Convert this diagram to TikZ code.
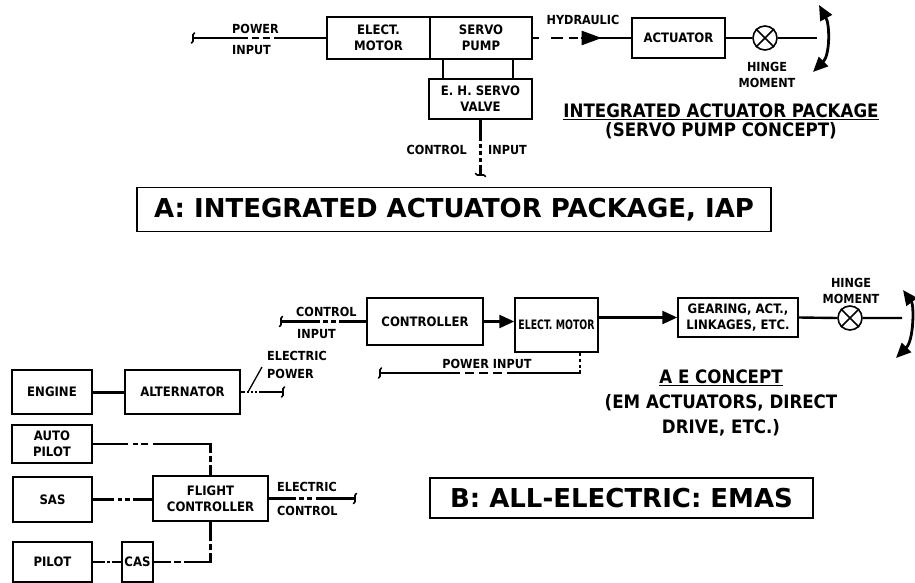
\documentclass[tikz,border=0pt]{standalone}
\usepackage{fontspec}
\setmainfont{Liberation Sans}
\newfontfamily\titlefont{DejaVu Sans}
\newfontfamily\lblfont{DejaVu Sans}[FakeStretch=0.9]
\newfontfamily\narrowfont{DejaVu Sans}[FakeStretch=0.72]
\usetikzlibrary{arrows.meta,calc,positioning,decorations.markings}
\newcommand{\squig}[2]{\begin{scope}[shift={#1},rotate=#2]
  \draw[line width=1.6pt,line cap=round] (1.5,-5) to[out=180,in=90] (0,0) to[out=-90,in=0] (-1.5,5);\end{scope}}
\tikzset{
  blk/.style={draw,line width=1.5pt,inner sep=0pt,align=center,
    font=\lblfont\bfseries\fontsize{13}{16}\selectfont},
  lbl/.style={inner sep=0pt,align=center,font=\lblfont\bfseries\fontsize{12.5}{16}\selectfont},
  link/.style={line width=2.4pt},
  hinge/.style={draw,circle,line width=1.6pt,minimum size=24pt,inner sep=0pt},
  flap/.style={line width=2.8pt,{Triangle[length=15pt,width=13pt]}-{Triangle[length=15pt,width=13pt]}},
  ttl/.style={draw,line width=1.6pt,inner sep=0pt,
    font=\titlefont\bfseries\fontsize{26}{30}\selectfont},
  head/.style={align=center,inner sep=0pt,font=\lblfont\bfseries\fontsize{18.5}{19}\selectfont},
  tip/.style={-{Triangle[length=15pt,width=13pt]}},
}
\begin{document}
\begin{tikzpicture}[x=1pt,y=-1pt]
\useasboundingbox (0,0) rectangle (915,583);
% A: integrated actuator package
\node[blk,minimum width=103pt,minimum height=42pt] (motA) at (378.5,38) {ELECT.\\MOTOR};
\node[blk,minimum width=102pt,minimum height=42pt] (pump) at (481,38) {SERVO\\PUMP};
\node[blk,minimum width=103pt,minimum height=40pt] (valve) at (480.5,99) {E. H. SERVO\\VALVE};
\node[blk,minimum width=93pt,minimum height=40pt] (act) at (678.5,38) {ACTUATOR};
\node[hinge] (hmA) at (765,38) {};
\draw[line width=1.6pt] (hmA.45) -- (hmA.225) (hmA.135) -- (hmA.-45);
\coordinate (pinA) at (193,38);
\coordinate (cinA) at (480.5,175);
\coordinate (fA) at (817,38);
\draw[link,dash pattern=on 52pt off 4pt on 7pt off 4pt on 7pt off 4pt on 100pt] (motA.west) -- (pinA);
\squig{(pinA)}{0}
\node[lbl,anchor=west] at (232,29) {POWER};
\node[lbl,anchor=west] at (232,50) {INPUT};
\foreach \p in {0.13,0.81}
  \draw[link] ($(pump.south west)!\p!(pump.south east)$) coordinate (v) -- (v |- valve.north);
\draw[link,dash pattern=on 21pt off 3pt on 4pt off 3pt on 4pt off 3pt on 4pt off 3pt on 50pt] (valve.south) -- (cinA);
\squig{(cinA)}{90}
\node[lbl,anchor=east] at (467,150) {CONTROL};
\node[lbl,anchor=west] at (488,150) {INPUT};
\draw[link,dash pattern=on 6pt off 12pt on 12pt off 6pt on 9pt off 3pt on 100pt,
  postaction={decorate,decoration={markings,mark=at position 0.7 with {\arrow{Triangle[length=20pt,width=14pt]}}}}]
  (pump.east) -- (act.west);
\node[lbl] at (583,20) {HYDRAULIC};
\draw[link] (act.east) -- (hmA.west) (hmA.east) -- (fA);
\draw[flap] (813,72) .. controls (830,55) and (830,25) .. (819,5);
\node[lbl] at (767,75) {HINGE\\MOMENT};
\node[head] at (721,121) {\underline{INTEGRATED ACTUATOR PACKAGE}\\(SERVO PUMP CONCEPT)};
\node[ttl,minimum width=634pt,minimum height=44pt] (ttlA) at (454,209.5) {A: INTEGRATED ACTUATOR PACKAGE, IAP};
% B: all-electric
\node[blk,minimum width=116pt,minimum height=47pt] (ctrl) at (425,321.5) {CONTROLLER};
\node[blk,minimum width=83pt,minimum height=54pt,font=\narrowfont\bfseries\fontsize{13}{16}\selectfont] (motB) at (556.5,325) {ELECT. MOTOR};
\node[blk,minimum width=120pt,minimum height=39pt] (gear) at (738,317.5) {GEARING, ACT.,\\LINKAGES, ETC.};
\node[hinge] (hmB) at (850,318) {};
\draw[line width=1.6pt] (hmB.45) -- (hmB.225) (hmB.135) -- (hmB.-45);
\coordinate (fB) at (902,318);
\coordinate (cinB) at (281,321.5);
\coordinate (pinB) at (380,373);
\draw[link,tip] (ctrl.east) -- (ctrl.east -| motB.west);
\draw[link,tip] (motB.east |- gear.west) -- (gear.west);
\draw[link] (gear.east) -- (hmB.west) (hmB.east) -- (fB);
\draw[flap] (896,358) .. controls (914,340) and (914,305) .. (903,290);
\node[lbl] at (851,290.5) {HINGE\\MOMENT};
\draw[link,dash pattern=on 27pt off 3pt on 5pt off 3pt on 5pt off 3pt on 100pt] (ctrl.west) -- (cinB);
\squig{(cinB)}{0}
\node[lbl,anchor=west] at (296,312) {CONTROL};
\node[lbl,anchor=west] at (297,334) {INPUT};
\draw[link,dash pattern=on 3pt off 3pt on 3pt off 3pt on 3pt off 2pt on 76pt off 5pt on 9pt off 5pt on 9pt off 5pt on 9pt off 5pt on 200pt]
  ($(motB.south west)!0.78!(motB.south east)$) |- (pinB);
\squig{(pinB)}{0}
\node[lbl] at (487,364) {POWER INPUT};
\node[head] at (721,403) {\underline{A E CONCEPT}\\[6pt](EM ACTUATORS, DIRECT\\[6pt]DRIVE, ETC.)};
% power and flight control sources
\node[blk,minimum width=80pt,minimum height=44pt] (engine) at (52,392) {ENGINE};
\node[blk,minimum width=115pt,minimum height=44pt] (alt) at (182.5,392) {ALTERNATOR};
\node[blk,minimum width=80pt,minimum height=38pt] (auto) at (52,444) {AUTO\\PILOT};
\node[blk,minimum width=79pt,minimum height=45pt] (sas) at (52.5,499.5) {SAS};
\node[blk,minimum width=115pt,minimum height=45pt] (fc) at (210.5,498.5) {FLIGHT\\CONTROLLER};
\node[blk,minimum width=79pt,minimum height=40pt] (pilot) at (52.5,562) {PILOT};
\node[blk,minimum width=31pt,minimum height=40pt] (cas) at (137.5,562) {CAS};
\coordinate (epw) at (283,392);
\coordinate (ecB) at (355,498.5);
\coordinate (ldA) at (248,392);
\coordinate (ldB) at (262,367);
\draw[line width=3pt] (engine.east) -- (alt.west);
\draw[link,dash pattern=on 4pt off 2pt on 2pt off 2pt on 2pt off 2pt on 2pt off 2pt on 50pt] (alt.east) -- (epw);
\squig{(epw)}{180}
\draw[line width=1.3pt] (ldA) -- (ldB);
\node[lbl,anchor=west] at (267,356) {ELECTRIC};
\node[lbl,anchor=west] at (267,374) {POWER};
\draw[link,dash pattern=on 35pt off 5pt on 5pt off 3pt on 7pt off 5pt on 66.5pt off 3pt on 6pt off 3pt on 20pt] (auto.east) -| (fc.north);
\draw[link,dash pattern=on 21pt off 4pt on 4pt off 3pt on 5pt off 3pt on 100pt] (sas.east) -- (sas.east -| fc.west);
\draw[link,dash pattern=on 12pt off 2pt on 3pt off 2pt on 100pt] (pilot.east) -- (cas.west);
\draw[link,dash pattern=on 17pt off 3pt on 7pt off 3pt on 35.5pt off 3pt on 6pt off 3pt on 40pt] (cas.east) -| (fc.south);
\draw[link,dash pattern=on 27pt off 3pt on 5pt off 3pt on 5pt off 4pt on 100pt] (fc.east) -- (ecB);
\squig{(ecB)}{180}
\node[lbl,anchor=west] at (277,487) {ELECTRIC};
\node[lbl,anchor=west] at (277,511) {CONTROL};
\node[ttl,minimum width=383pt,minimum height=40pt] (ttlB) at (621.5,498) {B: ALL-ELECTRIC: EMAS};
\end{tikzpicture}
\end{document}
